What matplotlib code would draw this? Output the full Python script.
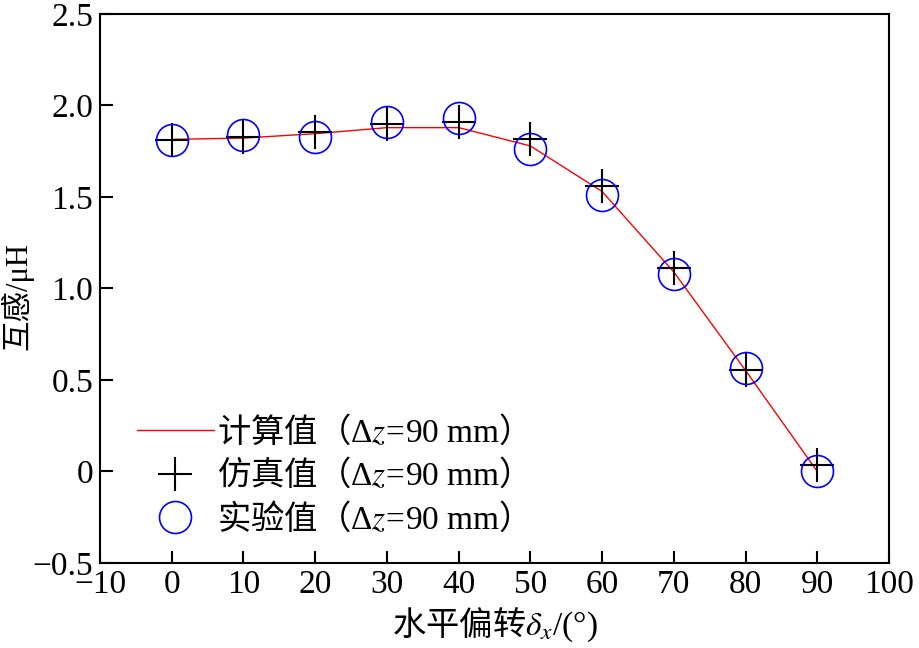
import matplotlib
matplotlib.use('Agg')
import matplotlib.pyplot as plt
import numpy as np

# data
angle = [0, 10, 20, 30, 40, 50, 60, 70, 80, 90]
calc = [1.815, 1.822, 1.846, 1.879, 1.879, 1.779, 1.53, 1.09, 0.552, 0.0]
sim = [1.811, 1.826, 1.854, 1.899, 1.911, 1.817, 1.56, 1.113, 0.557, 0.033]
meas = [1.811, 1.838, 1.83, 1.911, 1.93, 1.762, 1.512, 1.08, 0.563, 0.0]

xticks = [-10, 0, 10, 20, 30, 40, 50, 60, 70, 80, 90, 100]
xticklabels = ['\u221210', '0', '10', '20', '30', '40', '50', '60', '70', '80', '90', '100']
yticks = [-0.5, 0, 0.5, 1.0, 1.5, 2.0, 2.5]
yticklabels = ['\u22120.5', '0', '0.5', '1.0', '1.5', '2.0', '2.5']

labels = [r'$\mathsf{计算值（}\Delta z\!=\!\mathrm{90\ mm}\mathsf{）}$',
          r'$\mathsf{仿真值（}\Delta z\!=\!\mathrm{90\ mm}\mathsf{）}$',
          r'$\mathsf{实验值（}\Delta z\!=\!\mathrm{90\ mm}\mathsf{）}$']
xlabel = r'$\mathsf{水平偏转}\delta_x\mathrm{/(°)}$'
ylabel = '互感/μH'

plt.rcParams['font.family'] = ['Liberation Serif', 'Noto Sans CJK SC']
plt.rcParams['mathtext.fontset'] = 'custom'
plt.rcParams['mathtext.rm'] = 'Liberation Serif'
plt.rcParams['mathtext.it'] = 'STIXGeneral:italic'
plt.rcParams['mathtext.sf'] = 'Noto Sans CJK SC'
plt.rcParams['font.size'] = 24

fig = plt.figure(figsize=(9.19, 6.48), dpi=100)
ax = fig.add_axes([0.1088, 0.1312, 0.8586, 0.8472])

ax.plot(angle, calc, color='red', lw=1.0, label=labels[0])
ax.plot(angle, sim, ls='none', marker='+', ms=25, mew=1.5, color='black', label=labels[1])
ax.plot(angle, meas, ls='none', marker='o', ms=23, mew=1.2, mfc='none', mec='blue', label=labels[2])

ax.set_xlim(-10, 100)
ax.set_ylim(-0.5, 2.5)
ax.set_xticks(xticks)
ax.set_xticklabels(xticklabels)
ax.set_yticks(yticks)
ax.set_yticklabels(yticklabels)
ax.tick_params(direction='in', length=9, width=1.5, pad=5)

for s in ax.spines.values():
    s.set_linewidth(1.5)

ax.set_xlabel(xlabel, labelpad=4)
ax.set_ylabel(ylabel, fontsize=22)
ax.yaxis.set_label_coords(-0.084, 0.486)

ax.legend(loc='lower left', bbox_to_anchor=(0.03, 0.025), frameon=False,
          handlelength=2.3, handletextpad=0.1, labelspacing=0.25, borderaxespad=0)

fig.savefig('out.png', dpi=100)
